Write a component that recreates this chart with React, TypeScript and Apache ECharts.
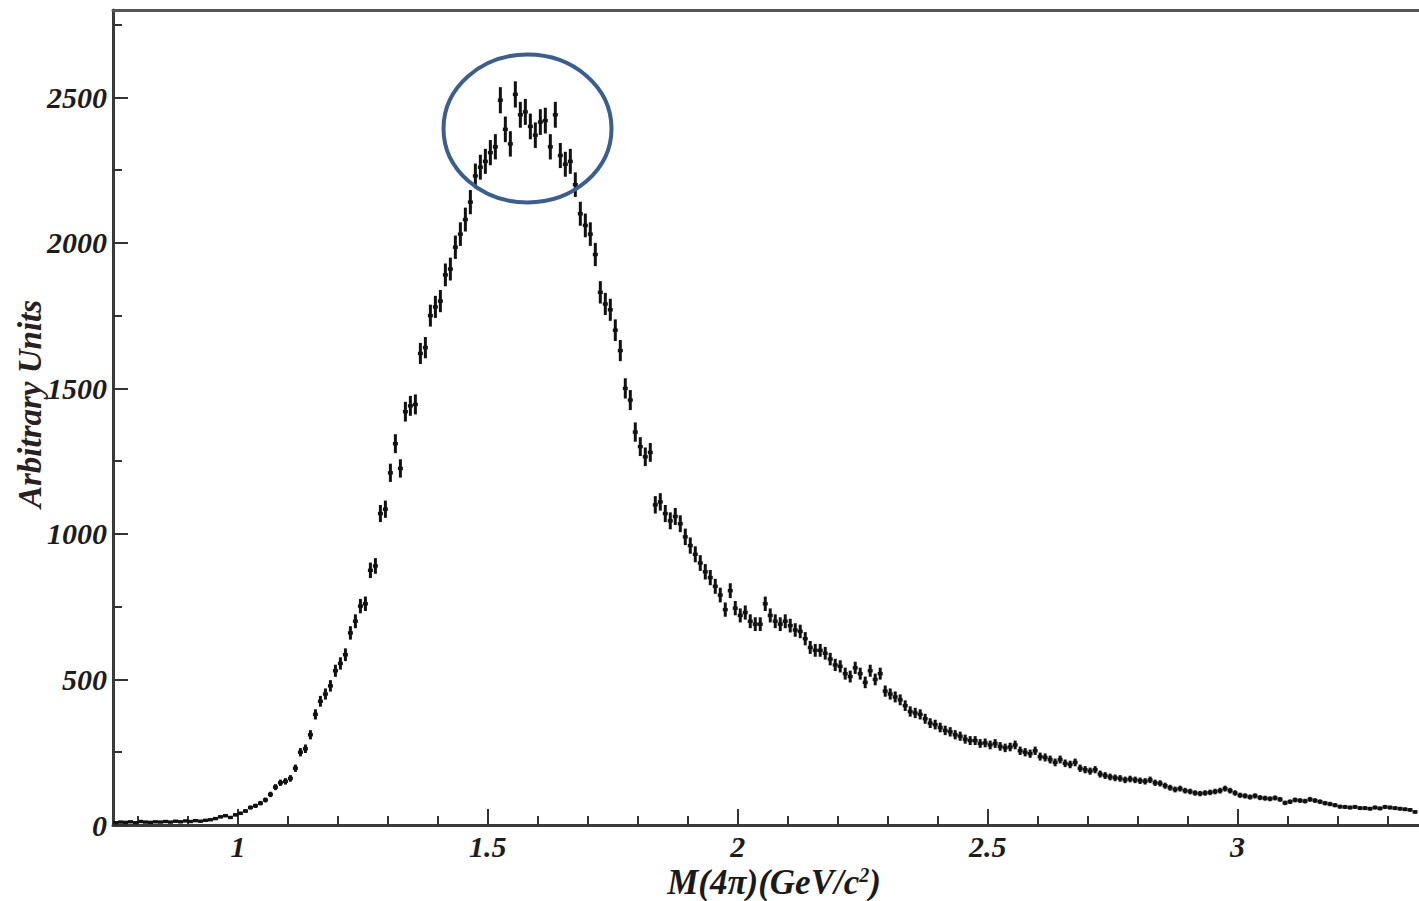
import React, { useEffect, useRef } from 'react';
import * as echarts from 'echarts';

// Histogram binning (GeV/c^2)
const BIN_START = 0.75;
const BIN_WIDTH = 0.01;

// Counts per bin (arbitrary units), one row per 0.1 GeV
const COUNTS_LOW = [
  8, 10, 9, 11, 8, 12, 10, 9, 11, 10, // 0.75
  12, 10, 13, 11, 14, 12, 15, 13, 16, 18, // 0.85
  22, 28, 32, 26, 35, 40, 48, 60, 66, 75, // 0.95
  86, 105, 130, 145, 150, 160, 195, 250, 262, 310, // 1.05
  380, 425, 450, 478, 530, 555, 585, 660, 700, 752, // 1.15
];
const COUNTS_RISE = [
  760, 875, 890, 1070, 1085, 1210, 1310, 1225, 1420, 1440, // 1.25
  1445, 1620, 1640, 1750, 1780, 1800, 1890, 1910, 1985, 2030, // 1.35
];
const COUNTS_PEAK = [
  2080, 2140, 2230, 2260, 2280, 2310, 2330, 2490, 2390, 2340, // 1.45
  2510, 2440, 2450, 2400, 2370, 2415, 2420, 2330, 2440, 2300, // 1.55
  2270, 2280, 2200, 2100, 2060, 2030, 1960, 1830, 1790, 1770, // 1.65
];
const COUNTS_FALL = [
  1700, 1630, 1500, 1460, 1350, 1300, 1265, 1280, 1100, 1110, // 1.75
  1070, 1045, 1060, 1035, 990, 960, 930, 900, 870, 850, // 1.85
  820, 790, 740, 805, 745, 720, 730, 700, 690, 690, // 1.95
  760, 720, 700, 690, 700, 685, 670, 665, 640, 610, // 2.05
  600, 600, 590, 570, 550, 545, 520, 510, 540, 520, // 2.15
  490, 530, 500, 520, 460, 450, 440, 430, 410, 390, // 2.25
];
const COUNTS_TAIL = [
  385, 380, 365, 350, 345, 335, 325, 320, 310, 305, // 2.35
  295, 290, 290, 280, 282, 275, 280, 270, 265, 268, // 2.45
  275, 255, 250, 245, 255, 235, 232, 225, 215, 225, // 2.55
  212, 208, 215, 195, 190, 185, 190, 175, 170, 165, // 2.65
  162, 160, 155, 158, 155, 152, 150, 155, 145, 143, // 2.75
  135, 128, 122, 125, 118, 115, 110, 108, 110, 112, // 2.85
  115, 118, 125, 118, 110, 102, 100, 96, 100, 94, // 2.95
  92, 90, 93, 88, 76, 80, 86, 84, 82, 88, // 3.05
  84, 80, 75, 72, 68, 63, 62, 60, 62, 58, // 3.15
  58, 56, 60, 57, 62, 60, 58, 56, 54, 52, // 3.25
  45, // 3.35
];

// Statistical error bars: sqrt(N) scaled to the arbitrary units
const ERR_SCALE = 0.9;

const X_LABELS = ['1', '1.5', '2', '2.5', '3'];
const Y_LABELS = ['0', '500', '1000', '1500', '2000', '2500'];
const X_TITLE = '{a|M(4π)(GeV/c}{s|2}{a|)}';
const Y_TITLE = 'Arbitrary Units';

const FONT = 'Liberation Serif, Times New Roman, serif';

export default function App() {
  const ref = useRef<HTMLDivElement>(null);

  useEffect(() => {
    const chart = echarts.init(ref.current!, null, { renderer: 'svg' });
    const counts = [...COUNTS_LOW, ...COUNTS_RISE, ...COUNTS_PEAK, ...COUNTS_FALL, ...COUNTS_TAIL];
    const data = counts.map((v, i) => [
      +(BIN_START + BIN_WIDTH * (i + 0.5)).toFixed(4),
      v,
      Math.sqrt(v) * ERR_SCALE,
    ]);

    const axisLineStyle = { color: '#3a3a3a', width: 3 };
    const tickStyle = { color: '#333', width: 2 };
    const labelStyle = {
      fontFamily: FONT,
      fontStyle: 'italic' as const,
      fontWeight: 'bold' as const,
      fontSize: 30,
      color: '#1c1c1c',
    };
    const hiddenAxis = (gridIndex: number) => ({ gridIndex, show: false, type: 'value' as const, min: 0, max: 1 });

    const X_MIN = 0.75;
    const X_MAX = 3.363;
    const PX_PER_X = 499.8;
    const PX_PER_Y = 815 / 2800;

    chart.setOption({
      animation: false,
      backgroundColor: '#ffffff',
      grid: [
        // A: data
        { left: 113, right: 0, top: 10, bottom: 76, outerBoundsMode: 'none' },
        // B: major x ticks (0.5 steps, starting at 0.5)
        { left: 113 - 0.25 * PX_PER_X, width: 3 * PX_PER_X, top: 10, bottom: 76, outerBoundsMode: 'none' },
        // C: y ticks (0..3000)
        { left: 113, right: 0, top: 825 - 3000 * PX_PER_Y, bottom: 76, outerBoundsMode: 'none' },
        // D: minor x ticks (0.1 steps, starting at 0.8)
        { left: 113 + 0.05 * PX_PER_X, width: 2.6 * PX_PER_X, top: 10, bottom: 76, outerBoundsMode: 'none' },
      ],
      xAxis: [
        {
          gridIndex: 0, type: 'value', min: X_MIN, max: X_MAX,
          axisLine: { show: true, lineStyle: axisLineStyle },
          axisTick: { show: false }, axisLabel: { show: false }, splitLine: { show: false },
        },
        {
          gridIndex: 0, type: 'value', position: 'top', min: X_MIN, max: X_MAX,
          axisLine: { show: true, lineStyle: { color: '#555', width: 3 } },
          axisTick: { show: false }, axisLabel: { show: false }, splitLine: { show: false },
        },
        {
          gridIndex: 1, type: 'value', min: 0.5, max: 3.5, interval: 0.5,
          axisLine: { show: false },
          axisTick: { show: true, inside: true, length: 16, lineStyle: tickStyle },
          axisLabel: {
            ...labelStyle, margin: 6,
            formatter: (v: number) => {
              const s = String(+v.toFixed(2));
              return X_LABELS.includes(s) ? s : '';
            },
          },
          splitLine: { show: false },
        },
        {
          gridIndex: 3, type: 'value', min: 0.8, max: 3.4, interval: 0.1,
          axisLine: { show: false },
          axisTick: { show: true, inside: true, length: 9, lineStyle: tickStyle },
          axisLabel: { show: false }, splitLine: { show: false },
        },
        hiddenAxis(2),
      ],
      yAxis: [
        {
          gridIndex: 0, type: 'value', min: 0, max: 2800,
          axisLine: { show: true, lineStyle: axisLineStyle },
          axisTick: { show: false }, axisLabel: { show: false }, splitLine: { show: false },
        },
        hiddenAxis(1),
        {
          gridIndex: 2, type: 'value', min: 0, max: 3000, interval: 500,
          axisLine: { show: false },
          axisTick: { show: true, inside: true, length: 15, lineStyle: tickStyle },
          minorTick: { show: true, splitNumber: 2, length: 9, lineStyle: tickStyle },
          axisLabel: {
            ...labelStyle, margin: 6,
            formatter: (v: number) => (Y_LABELS.includes(String(v)) ? String(v) : ''),
          },
          splitLine: { show: false },
          minorSplitLine: { show: false },
        },
        hiddenAxis(3),
      ],
      series: [
        {
          type: 'custom',
          xAxisIndex: 0,
          yAxisIndex: 0,
          clip: true,
          data,
          renderItem: (_params: any, api: any) => {
            const x = api.value(0);
            const y = api.value(1);
            const e = api.value(2);
            const c = api.coord([x, y]);
            const hi = api.coord([x, y + e]);
            const lo = api.coord([x, y - e]);
            const l = api.coord([x - BIN_WIDTH / 2, y]);
            const r = api.coord([x + BIN_WIDTH / 2, y]);
            return {
              type: 'group',
              children: [
                {
                  type: 'line',
                  shape: { x1: c[0], y1: hi[1], x2: c[0], y2: lo[1] },
                  style: { stroke: '#111', lineWidth: 3 },
                },
                {
                  type: 'line',
                  shape: { x1: l[0], y1: c[1], x2: r[0], y2: c[1] },
                  style: { stroke: '#111', lineWidth: 3.4 },
                },
              ],
            };
          },
        },
      ],
      graphic: [
        {
          type: 'ellipse',
          shape: { cx: 527.5, cy: 128.5, rx: 84, ry: 74 },
          style: { fill: 'none', stroke: '#3b5e8c', lineWidth: 4 },
          z: 100,
        },
        {
          type: 'text',
          x: 774,
          y: 882,
          style: {
            text: X_TITLE,
            textAlign: 'center',
            textVerticalAlign: 'middle',
            rich: {
              a: { fontFamily: FONT, fontStyle: 'italic', fontWeight: 'bold', fontSize: 35, fill: '#1a1a1a' },
              s: { fontFamily: FONT, fontStyle: 'italic', fontWeight: 'bold', fontSize: 20, fill: '#1a1a1a', verticalAlign: 'top', padding: [0, 0, 12, 0] },
            },
          },
          z: 100,
        },
        {
          type: 'text',
          x: 30,
          y: 404,
          rotation: Math.PI / 2,
          style: {
            text: Y_TITLE,
            textAlign: 'center',
            textVerticalAlign: 'middle',
            fontFamily: FONT,
            fontStyle: 'italic',
            fontWeight: 'bold',
            fontSize: 33,
            fill: '#2a2020',
          },
          z: 100,
        },
      ],
    });

    return () => chart.dispose();
  }, []);

  return (
    <div
      ref={ref}
      style={{ position: 'fixed', left: 0, top: 0, width: 1419, height: 901, background: '#fff' }}
    />
  );
}
